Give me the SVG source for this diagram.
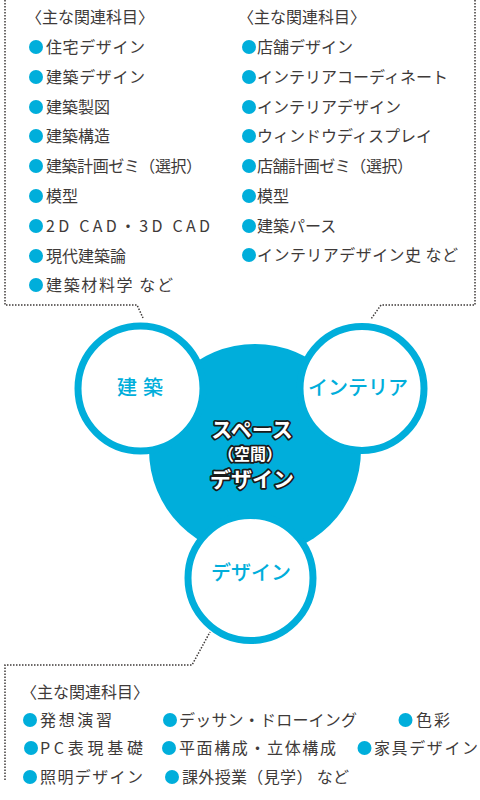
<svg xmlns="http://www.w3.org/2000/svg" width="480" height="800" viewBox="0 0 480 800">
<style>
text{font-family:"Noto Sans CJK JP","Noto Sans",sans-serif;}
.t{font-size:16px;fill:#3e3a39;}
.b{fill:#00aedb;}
.dot{fill:none;stroke:#3e3a39;stroke-width:1.5;stroke-dasharray:1.5 1.5;}
.ring{fill:#fff;stroke:#00aedb;stroke-width:7;}
.lbl{font-size:20px;fill:#00aedb;font-weight:500;text-anchor:middle;}
.ctr{fill:#fff;stroke:#1a1a1a;stroke-width:3.5;stroke-linejoin:round;paint-order:stroke;font-weight:bold;text-anchor:middle;}
</style>
<rect width="480" height="800" fill="#fff"/>
<g id="connectors">
<path class="dot" d="M5,0 V305 H137 L143,318"/>
<path class="dot" d="M475,0 V305 H381 L371,319"/>
<path class="dot" d="M5,780 V665 H192 L210,632"/>
</g>
<g id="list-architecture">
<text class="t" x="26" y="23">〈主な関連科目〉</text>
<circle class="b" cx="36" cy="47" r="7"/><text class="t" x="46" y="53" textLength="99">住宅デザイン</text>
<circle class="b" cx="36" cy="77" r="7"/><text class="t" x="46" y="83" textLength="99">建築デザイン</text>
<circle class="b" cx="36" cy="107" r="7"/><text class="t" x="46" y="113">建築製図</text>
<circle class="b" cx="36" cy="136" r="7"/><text class="t" x="46" y="142">建築構造</text>
<circle class="b" cx="36" cy="166" r="7"/><text class="t" x="46" y="172" textLength="156">建築計画ゼミ（選択）</text>
<circle class="b" cx="36" cy="196" r="7"/><text class="t" x="46" y="202">模型</text>
<circle class="b" cx="36" cy="226" r="7"/><text class="t" x="46" y="232" textLength="164">2D CAD・3D CAD</text>
<circle class="b" cx="36" cy="256" r="7"/><text class="t" x="46" y="262">現代建築論</text>
<circle class="b" cx="36" cy="285" r="7"/><text class="t" x="46" y="291" textLength="127">建築材料学 など</text>
</g>
<g id="list-interior">
<text class="t" x="238" y="23">〈主な関連科目〉</text>
<circle class="b" cx="249" cy="47" r="7"/><text class="t" x="257" y="53">店舗デザイン</text>
<circle class="b" cx="249" cy="77" r="7"/><text class="t" x="257" y="83" textLength="191">インテリアコーディネート</text>
<circle class="b" cx="249" cy="107" r="7"/><text class="t" x="257" y="113">インテリアデザイン</text>
<circle class="b" cx="249" cy="136" r="7"/><text class="t" x="257" y="142">ウィンドウディスプレイ</text>
<circle class="b" cx="249" cy="166" r="7"/><text class="t" x="257" y="172" textLength="156">店舗計画ゼミ（選択）</text>
<circle class="b" cx="249" cy="196" r="7"/><text class="t" x="257" y="202">模型</text>
<circle class="b" cx="249" cy="226" r="7"/><text class="t" x="257" y="232">建築パース</text>
<circle class="b" cx="249" cy="255" r="7"/><text class="t" x="257" y="261" textLength="201">インテリアデザイン史 など</text>
</g>
<g id="node-space-design">
<circle class="b" cx="255" cy="450" r="106"/>
</g>
<g id="node-architecture">
<circle class="ring" cx="140.5" cy="388.5" r="62.5"/>
<text class="lbl" x="143" y="395" letter-spacing="6">建築</text>
</g>
<g id="node-interior">
<circle class="ring" cx="362" cy="388.5" r="62"/>
<text class="lbl" x="358" y="395" font-size="19">インテリア</text>
</g>
<g id="node-design">
<circle class="ring" cx="250.5" cy="578" r="62.5"/>
<text class="lbl" x="251" y="580">デザイン</text>
</g>
<g id="node-center-label">
<text class="ctr" x="252" y="437" font-size="21">スペース</text>
<text class="ctr" x="250" y="460" font-size="16">（空間）</text>
<text class="ctr" x="252" y="487" font-size="21">デザイン</text>
</g>
<g id="list-design">
<text class="t" x="21" y="698">〈主な関連科目〉</text>
<circle class="b" cx="30" cy="720" r="7"/><text class="t" x="40" y="726" textLength="72">発想演習</text>
<circle class="b" cx="170" cy="720" r="7"/><text class="t" x="179" y="726" textLength="178">デッサン・ドローイング</text>
<circle class="b" cx="405.5" cy="720" r="7"/><text class="t" x="416" y="726" textLength="34">色彩</text>
<circle class="b" cx="31" cy="748" r="7"/><text class="t" x="40" y="754" textLength="103">PC表現基礎</text>
<circle class="b" cx="169" cy="748" r="7"/><text class="t" x="179" y="754" textLength="157">平面構成・立体構成</text>
<circle class="b" cx="364.5" cy="748" r="7"/><text class="t" x="374" y="754" textLength="104">家具デザイン</text>
<circle class="b" cx="30" cy="777" r="7"/><text class="t" x="40" y="783" textLength="103">照明デザイン</text>
<circle class="b" cx="172" cy="777" r="7"/><text class="t" x="182" y="783" textLength="167">課外授業（見学） など</text>
</g>
</svg>
